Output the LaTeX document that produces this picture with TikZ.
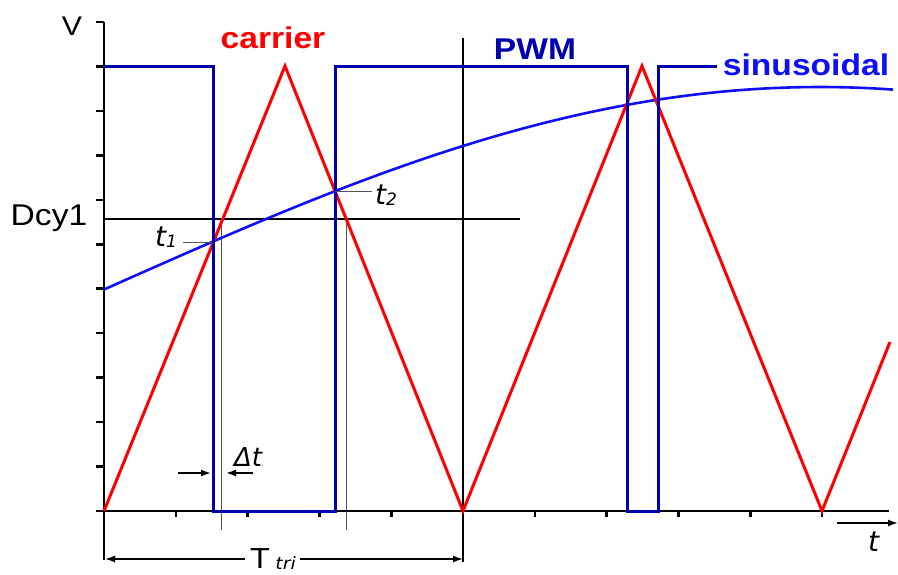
\documentclass[tikz,border=0pt]{standalone}
\usepackage{fontspec}
\setmainfont{Liberation Sans}
\newfontfamily\dvfont{DejaVu Sans}
\usetikzlibrary{arrows.meta}
\definecolor{pwmblue}{RGB}{0,0,175}
\definecolor{sinblue}{RGB}{15,15,245}
\definecolor{carred}{RGB}{255,0,0}
\definecolor{guidegray}{RGB}{85,85,85}
\newcommand{\hstretch}[1]{\scalebox{1.12}[1]{#1}}
\begin{document}
\begin{tikzpicture}[x=1pt,y=-1pt,
  axisline/.style={black, line width=2.6pt},
  thinline/.style={black, line width=1.1pt},
  guideline/.style={guidegray, line width=1pt},
  pwmline/.style={pwmblue, line width=3pt},
  sinwave/.style={sinblue, line width=2.6pt},
  carrierline/.style={carred, line width=3pt, line join=miter},
  arr/.style={-{Latex[length=10pt,width=7pt]}, line width=1.6pt},
  ticky/.style={black, line width=2.6pt},
  label/.style={inner sep=0pt, anchor=base},
  boldlabel/.style={label, font=\fontsize{30}{36}\selectfont\bfseries},
  itlabel/.style={inner sep=0pt, anchor=base west, font=\dvfont\itshape}
]
\useasboundingbox (0,0) rectangle (898,574);

% named points
\coordinate (O) at (104,511);
\coordinate (Ytop) at (104,22);
\coordinate (Xend) at (889,511);
\coordinate (Ylow) at (104,560);

% guide lines
\coordinate (Dl) at (104,219);
\coordinate (Dr) at (520,219);
\draw[thinline] (Dl) -- (Dr);
\coordinate (Pt) at (463,38);
\coordinate (Pb) at (463,562);
\draw[thinline] (Pt) -- (Pb);
\draw[thinline] (O) -- (Ylow);
\coordinate (G1t) at (221,219);
\coordinate (G1b) at (221,530);
\coordinate (G2t) at (346,219);
\coordinate (G2b) at (346,530);
\draw[guideline] (G1t) -- (G1b);
\draw[guideline] (G2t) -- (G2b);

% axes and ticks
\draw[axisline] (Ytop) -- (O) -- (Xend);
\foreach \i in {0,...,11}{
  \draw[ticky] (96,{22+\i*44.45}) -- (104,{22+\i*44.45});
}
\foreach \i in {0,...,10}{
  \draw[ticky] ({104+\i*71.8},511) -- ({104+\i*71.8},517);
}

% sinusoidal
\draw[sinwave] plot[domain=104:893, samples=120] (\x, {87+203*(1-cos(0.1255*(\x-820)))});

% carrier
\draw[carrierline] (104,511) -- (285,66) -- (463,511) -- (642,66) -- (822,511) -- (890,342);

% PWM
\draw[pwmline] (104,66) -- (213,66) -- (213,511) -- (335,511) -- (335,66) -- (627,66) -- (627,511) -- (658,511) -- (658,66) -- (717,66);

% labels
\node[label, font=\fontsize{27}{32}\selectfont] (V) at (72,35) {\hstretch{V}};
\node[boldlabel, text=carred] (carrier) at (273,48) {\hstretch{carrier}};
\node[boldlabel, text=pwmblue] (PWM) at (535,59) {\hstretch{PWM}};
\node[boldlabel, text=sinblue] (sinus) at (806,75) {\hstretch{sinusoidal}};
\node[label, font=\fontsize{30}{36}\selectfont] (Dcy) at (49,225) {\hstretch{Dcy1}};

% t1, t2
\coordinate (t1p) at (213,242);
\coordinate (t1l) at (183,242);
\draw[guideline] (t1l) -- (t1p);
\node[itlabel] (t1) at (155,246) {\fontsize{28}{32}\selectfont t\raisebox{-1pt}{\fontsize{17}{20}\selectfont 1}};
\coordinate (t2p) at (335,191);
\coordinate (t2l) at (372,191);
\draw[guideline] (t2p) -- (t2l);
\node[itlabel] (t2) at (375,204) {\fontsize{28}{32}\selectfont t\raisebox{-1pt}{\fontsize{17}{20}\selectfont 2}};

% delta t
\node[itlabel] (dt) at (234,466) {\fontsize{26}{30}\selectfont Δt\fontsize{6}{6}\selectfont.};
\coordinate (a1s) at (178,473);
\coordinate (a1e) at (211,473);
\coordinate (a2s) at (253,473);
\coordinate (a2e) at (226,473);
\draw[arr] (a1s) -- (a1e);
\draw[arr] (a2s) -- (a2e);

% T_tri
\node[inner sep=0pt, anchor=base] (Ttri) at (273,568) {\hstretch{\fontsize{29}{32}\selectfont T\,\raisebox{-1pt}{\dvfont\itshape\fontsize{17}{20}\selectfont tri}}};
\coordinate (TL) at (105,559);
\coordinate (TR) at (463,559);
\draw[arr] (Ttri.west |- TL) ++(-5,0) -- (TL);
\draw[arr] (Ttri.east |- TR) ++(4,0) -- (TR);

% t axis arrow
\coordinate (ta1) at (837,523);
\coordinate (ta2) at (898,523);
\draw[arr] (ta1) -- (ta2);
\node[itlabel] (tlab) at (868,551) {\fontsize{28}{32}\selectfont t};
\end{tikzpicture}
\end{document}
